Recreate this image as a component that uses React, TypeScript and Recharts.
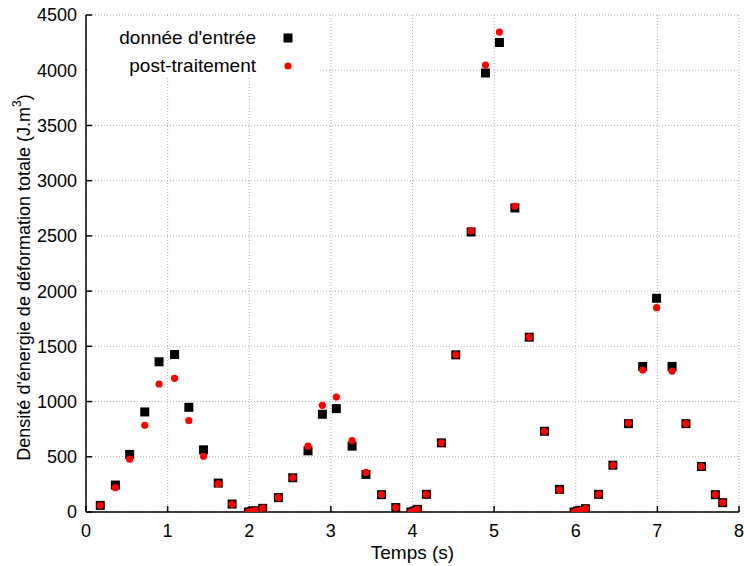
import { ScatterChart, Scatter, XAxis, YAxis, CartesianGrid, Legend, Label } from 'recharts';

const times = [
  0.175, 0.36, 0.535, 0.72, 0.895, 1.085, 1.26, 1.44, 1.62, 1.79,
  1.99, 2.03, 2.07, 2.165, 2.357, 2.533, 2.72, 2.896, 3.067, 3.26,
  3.43, 3.62, 3.795, 3.98, 4.02, 4.06, 4.17, 4.354, 4.53, 4.718,
  4.894, 5.065, 5.254, 5.43, 5.617, 5.8, 5.98, 6.02, 6.06, 6.12,
  6.28, 6.455, 6.646, 6.82, 6.99, 7.18, 7.35, 7.54, 7.71, 7.8,
];

const inputValues = [
  60, 244, 521, 906, 1360, 1426, 948, 563, 262, 72,
  0, 5, 12, 33, 130, 310, 554, 885, 936, 596,
  340, 157, 40, 0, 8, 24, 160, 626, 1423, 2536,
  3975, 4251, 2753, 1583, 731, 205, 0, 8, 15, 30,
  160, 424, 800, 1318, 1935, 1318, 800, 412, 157, 85,
];

const postValues = [
  60, 220, 478, 785, 1159, 1210, 828, 505, 255, 70,
  0, 5, 12, 35, 130, 310, 596, 966, 1041, 647,
  358, 157, 40, 0, 8, 24, 160, 626, 1423, 2545,
  4047, 4345, 2768, 1583, 731, 200, 0, 8, 15, 30,
  160, 424, 805, 1285, 1850, 1276, 800, 412, 157, 85,
];

const xTicks = [0, 1, 2, 3, 4, 5, 6, 7, 8];
const yTicks = [0, 500, 1000, 1500, 2000, 2500, 3000, 3500, 4000, 4500];

const inputData = times.map((t, i) => ({ t, v: inputValues[i] }));
const postData = times.map((t, i) => ({ t, v: postValues[i] }));

const font = 'Liberation Sans, Arial, sans-serif';
const tickStyle = { fill: '#000', fontSize: 18, fontFamily: font };

const Square = (p: any) => <rect x={p.cx - 4.5} y={p.cy - 4.5} width={9} height={9} fill="#000" />;
const Dot = (p: any) => <circle cx={p.cx} cy={p.cy} r={3.6} fill="#ff0000" />;

const LegendBox = ({ payload }: any) => (
  <div style={{ position: 'relative', width: 232, height: 62, background: '#fff', fontFamily: font, fontSize: 19 }}>
    {(payload || []).map((item: any, i: number) => (
      <div key={i} style={{ position: 'absolute', left: 0, top: 12 + i * 28, width: 232, height: 20, lineHeight: '20px' }}>
        <span style={{ position: 'absolute', right: 63, whiteSpace: 'nowrap', color: '#000' }}>{item.value}</span>
        <svg style={{ position: 'absolute', left: 196, top: 5 }} width={10} height={10}>
          {i === 0 ? <rect x={0.5} y={0.5} width={9} height={9} fill="#000" /> : <circle cx={5} cy={5} r={3.6} fill="#ff0000" />}
        </svg>
      </div>
    ))}
  </div>
);

const YLabel = ({ viewBox }: any) => {
  const cx = 24;
  const cy = viewBox.y + viewBox.height / 2 + 14;
  return (
    <text transform={`translate(${cx},${cy}) rotate(-90)`} textAnchor="middle" dominantBaseline="central" fontFamily={font} fontSize={18} fill="#000">
      <tspan>Densité d'énergie de déformation totale (J.m</tspan>
      <tspan dy={-7} fontSize={12}>3</tspan>
      <tspan dy={7}>)</tspan>
    </text>
  );
};

export default function App() {
  return (
    <div style={{ position: 'absolute', left: 0, top: 0, width: 744, height: 566, background: '#fff' }}>
      <ScatterChart width={744} height={566} margin={{ top: 15, right: 5, left: 16, bottom: 24 }}>
        <CartesianGrid stroke="#9a9a9a" strokeDasharray="1 2" strokeWidth={0.8} />
        <XAxis
          type="number"
          dataKey="t"
          domain={[0, 8]}
          ticks={xTicks}
          height={30}
          tickSize={-6}
          tickMargin={18}
          tick={tickStyle}
          stroke="#000"
          strokeWidth={1.5}
          allowDataOverflow
        >
          <Label value="Temps (s)" position="bottom" offset={4} style={{ fill: '#000', fontSize: 19, fontFamily: font }} />
        </XAxis>
        <XAxis
          xAxisId="top"
          orientation="top"
          type="number"
          dataKey="t"
          domain={[0, 8]}
          ticks={xTicks}
          height={0}
          tickSize={-6}
          tick={false}
          stroke="#000"
          strokeWidth={1.5}
        />
        <YAxis
          type="number"
          dataKey="v"
          domain={[0, 4500]}
          ticks={yTicks}
          width={70}
          tickSize={-6}
          tickMargin={15}
          tick={tickStyle}
          stroke="#000"
          strokeWidth={1.5}
          allowDataOverflow
          label={<YLabel />}
        />
        <YAxis
          yAxisId="right"
          orientation="right"
          type="number"
          dataKey="v"
          domain={[0, 4500]}
          ticks={yTicks}
          width={0}
          tickSize={-6}
          tick={false}
          stroke="#000"
          strokeWidth={1.5}
        />
        <Legend
          layout="vertical"
          align="center"
          verticalAlign="middle"
          content={<LegendBox />}
          wrapperStyle={{ left: 87, top: 16, width: 232, height: 62 }}
        />
        <Scatter name="donnée d'entrée" data={inputData} fill="#000" shape={Square} isAnimationActive={false} />
        <Scatter name="post-traitement" data={postData} fill="#ff0000" shape={Dot} isAnimationActive={false} />
      </ScatterChart>
    </div>
  );
}
